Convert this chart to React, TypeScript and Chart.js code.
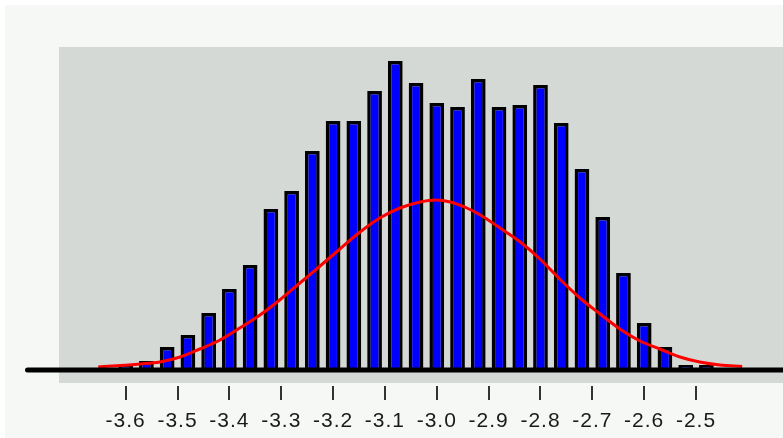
import React, { useEffect, useRef } from 'react';
import { Chart, registerables } from 'chart.js';

Chart.register(...registerables);

// Histogram bins (centre of each 0.04-wide bin) and their heights
const BIN_CENTERS = [
  -3.6, -3.56, -3.52, -3.48, -3.44, -3.4, -3.36, -3.32, -3.28, -3.24,
  -3.2, -3.16, -3.12, -3.08, -3.04, -3.0, -2.96, -2.92, -2.88, -2.84,
  -2.8, -2.76, -2.72, -2.68, -2.64, -2.6, -2.56, -2.52, -2.48,
];
const COUNTS = [
  5, 9, 23, 35, 57, 81, 105, 161, 179, 219,
  249, 249, 279, 309, 287, 267, 263, 291, 263, 265,
  285, 247, 201, 153, 97, 47, 23, 5, 5,
];

// Fitted density curve, sampled points
const CURVE_X = [
  -3.653, -3.572, -3.534, -3.495, -3.457, -3.418, -3.38, -3.341, -3.303, -3.264,
  -3.225, -3.187, -3.148, -3.11, -3.071, -3.032, -3.002, -2.974, -2.942, -2.916,
  -2.878, -2.839, -2.801, -2.763, -2.724, -2.685, -2.647, -2.608, -2.57, -2.531,
  -2.493, -2.454, -2.411,
];
const CURVE_Y = [
  3, 6, 8, 13, 21, 30, 42, 55, 70, 87,
  104, 121, 138, 152, 162, 168, 170, 168, 162, 155,
  142, 128, 111, 91, 72, 56, 41, 29, 21, 13,
  8, 5, 3.5,
];

const TICK_VALUES = [-3.6, -3.5, -3.4, -3.3, -3.2, -3.1, -3.0, -2.9, -2.8, -2.7, -2.6, -2.5];

const X_MIN = -3.7286;
const X_MAX = -2.3323;
const Y_MIN = -16;
const Y_MAX = 323;

const PANEL_BG = '#f5f8f5';
const PLOT_BG = '#d5d9d6';

export default function App() {
  const canvasRef = useRef<HTMLCanvasElement>(null);

  useEffect(() => {
    const canvas = canvasRef.current;
    if (!canvas) return;

    const backdrop = {
      id: 'backdrop',
      beforeDraw(chart: any) {
        const { ctx, chartArea, width, height } = chart;
        ctx.save();
        ctx.fillStyle = '#ffffff';
        ctx.fillRect(0, 0, width, height);
        ctx.fillStyle = PANEL_BG;
        ctx.fillRect(5, 5, width - 5, height - 5);
        ctx.fillStyle = PLOT_BG;
        ctx.fillRect(
          chartArea.left,
          chartArea.top,
          chartArea.right - chartArea.left,
          chartArea.bottom - 3 - chartArea.top
        );
        ctx.restore();
        ctx.letterSpacing = '1px';
      },
    };

    const baseline = {
      id: 'baseline',
      afterDatasetsDraw(chart: any) {
        const { ctx, width } = chart;
        const y = chart.scales.y.getPixelForValue(0);
        ctx.save();
        ctx.strokeStyle = '#000000';
        ctx.lineWidth = 5;
        ctx.lineCap = 'round';
        ctx.beginPath();
        ctx.moveTo(27.5, y);
        ctx.lineTo(width + 5, y);
        ctx.stroke();
        ctx.restore();
      },
    };

    const chart = new Chart(canvas, {
      type: 'bar',
      data: {
        datasets: [
          {
            type: 'line',
            data: CURVE_X.map((x, i) => ({ x, y: CURVE_Y[i] })),
            borderColor: '#ff0000',
            borderWidth: 3,
            pointRadius: 0,
            cubicInterpolationMode: 'monotone',
            fill: false,
            order: 1,
          } as any,
          {
            type: 'bar',
            data: BIN_CENTERS.map((x, i) => ({ x, y: COUNTS[i] })),
            backgroundColor: '#0000ff',
            borderColor: '#000000',
            borderWidth: 3.5,
            barPercentage: 0.71,
            categoryPercentage: 1,
            order: 2,
          } as any,
        ],
      },
      options: {
        responsive: false,
        animation: false,
        devicePixelRatio: 1,
        layout: { padding: { left: 59, top: 47, right: 0, bottom: 0 } },
        plugins: {
          legend: { display: false },
          tooltip: { enabled: false },
        },
        scales: {
          x: {
            type: 'linear',
            min: X_MIN,
            max: X_MAX,
            offset: false,
            border: { display: false },
            grid: {
              display: true,
              offset: false,
              drawOnChartArea: false,
              drawTicks: true,
              tickLength: 14,
              color: '#333333',
              lineWidth: 2,
            },
            afterBuildTicks: (scale: any) => {
              scale.ticks = TICK_VALUES.map((v) => ({ value: v }));
            },
            afterFit: (scale: any) => {
              scale.height = 52;
            },
            ticks: {
              autoSkip: false,
              maxRotation: 0,
              minRotation: 0,
              padding: 9,
              color: '#1a1a1a',
              font: { family: "'Liberation Sans', Arial, sans-serif", size: 21 },
              callback: (v: any) => Number(v).toFixed(1),
            },
          },
          y: {
            display: false,
            min: Y_MIN,
            max: Y_MAX,
          },
        },
      } as any,
      plugins: [backdrop, baseline],
    });

    return () => chart.destroy();
  }, []);

  return (
    <div style={{ position: 'fixed', left: 0, top: 0, width: 783, height: 438 }}>
      <canvas ref={canvasRef} width={783} height={438} style={{ display: 'block' }} />
    </div>
  );
}
